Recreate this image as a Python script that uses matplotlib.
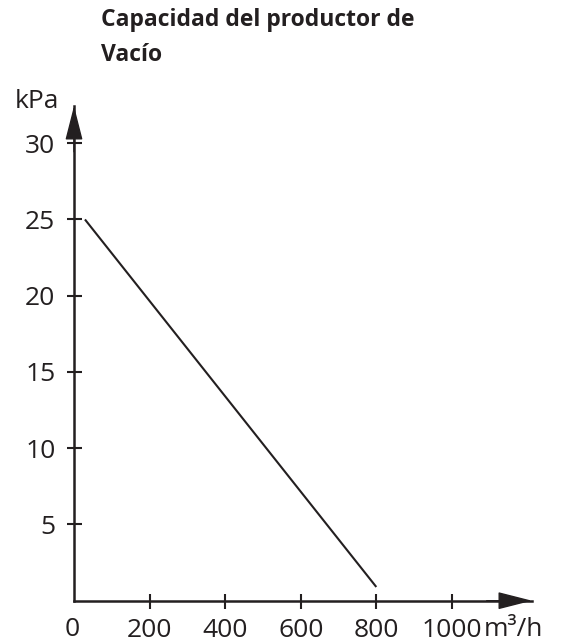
import matplotlib
matplotlib.use("Agg")
import matplotlib.pyplot as plt

flow = [29, 800]          # m3/h
pressure = [25.0, 0.9]    # kPa
xticks = [200, 400, 600, 800, 1000]
yticks = [5, 10, 15, 20, 25, 30]

plt.rcParams['font.family'] = ['Open Sans', 'DejaVu Sans']
col = '#231f20'

W, H = 565, 644
fig = plt.figure(figsize=(W / 100, H / 100), dpi=100)
ax = fig.add_axes([74 / W, 43.3 / H, 458 / W, 494.7 / H])
xmax, ymax = 1212, 32.44
ax.set_xlim(0, xmax)
ax.set_ylim(0, ymax)
for s in ['top', 'right']:
    ax.spines[s].set_visible(False)
for s in ['left', 'bottom']:
    ax.spines[s].set_linewidth(1.8)
    ax.spines[s].set_color(col)

ax.plot(flow, pressure, color=col, lw=1.5, solid_capstyle='butt')

ax.set_xticks(xticks)
ax.set_yticks(yticks)
ax.tick_params(direction='inout', length=10.8, width=1.5, color=col,
               labelsize=19, labelcolor=col)
ax.tick_params(axis='x', pad=7)
ax.tick_params(axis='y', pad=8)

# arrow heads
arrow = dict(arrowstyle='-|>,head_length=2.16,head_width=0.55',
             color=col, lw=1, mutation_scale=10, shrinkA=0, shrinkB=0)
ax.annotate('', xy=(xmax, 0), xytext=(xmax - 120, 0),
            arrowprops=arrow, annotation_clip=False)
ax.annotate('', xy=(0, ymax), xytext=(0, ymax - 3),
            arrowprops=arrow, annotation_clip=False)

fig.text(72.5 / W, 1 - 630 / H, '0', ha='center', va='center', fontsize=19, color=col)
fig.text(484 / W, 1 - 630 / H, 'm³/h', ha='left', va='center', fontsize=19, color=col)
fig.text(37 / W, 1 - 102 / H, 'kPa', ha='center', va='center', fontsize=19, color=col)

fig.text(101 / W, 1 - 8 / H, 'Capacidad del productor de\nVacío', ha='left', va='top',
         fontsize=16.5, fontweight='bold', color=col, linespacing=1.6)

fig.savefig('out.png', dpi=100)
